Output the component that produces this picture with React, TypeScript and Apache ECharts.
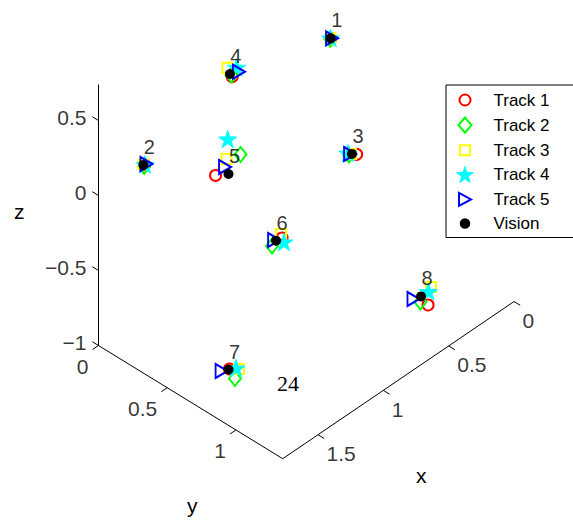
import React, { useEffect, useRef } from "react";
import * as echarts from "echarts";

// ---------- data ----------
const seriesNames = ["Track 1", "Track 2", "Track 3", "Track 4", "Track 5", "Vision"];
const pointLabels = ["1", "2", "3", "4", "5", "6", "7", "8"];

// [x, y, z] for each numbered point
const track1 = [[0.618, 0.594, 0.7], [1.6, 0.173, 0.2], [0.677, 0.839, 0.1], [1.114, 0.349, 0.6], [1.315, 0.419, 0.1], [1.088, 0.687, -0.3], [1.477, 0.675, -0.95], [0.599, 1.284, -0.7]];
const track2 = [[0.624, 0.596, 0.7], [1.61, 0.18, 0.2], [0.709, 0.813, 0.1], [1.106, 0.337, 0.6], [1.189, 0.481, 0.2], [1.172, 0.694, -0.3], [1.514, 0.749, -0.95], [0.609, 1.238, -0.7]];
const track3 = [[0.619, 0.593, 0.7], [1.601, 0.167, 0.2], [0.696, 0.816, 0.1], [1.078, 0.28, 0.6], [1.266, 0.453, 0.2], [1.068, 0.661, -0.3], [1.443, 0.711, -0.95], [0.482, 1.194, -0.7]];
const track4 = [[0.616, 0.592, 0.7], [1.595, 0.172, 0.2], [0.701, 0.799, 0.1], [1.042, 0.313, 0.6], [1.262, 0.457, 0.333], [1.105, 0.717, -0.3], [1.448, 0.694, -0.95], [0.518, 1.21, -0.7]];
const track5 = [[0.613, 0.599, 0.7], [1.587, 0.175, 0.2], [0.699, 0.812, 0.1], [1.06, 0.347, 0.6], [1.275, 0.45, 0.15], [1.129, 0.668, -0.3], [1.518, 0.656, -0.95], [0.617, 1.195, -0.7]];
const vision = [[0.618, 0.594, 0.7], [1.604, 0.169, 0.2], [0.692, 0.819, 0.1], [1.106, 0.325, 0.6], [1.259, 0.46, 0.1], [1.126, 0.679, -0.3], [1.484, 0.674, -0.95], [0.574, 1.209, -0.7]];

const xLim = [0, 1.77];
const yLim = [0, 1.34];
const zLim = [-1, 0.74];
const xTicks = [0, 0.5, 1, 1.5];
const yTicks = [0, 0.5, 1];
const zTicks = [-1, -0.5, 0, 0.5];
const xTickLabels = ["0", "0.5", "1", "1.5"];
const yTickLabels = ["0", "0.5", "1"];
const zTickLabels = ["\u22121", "\u22120.5", "0", "0.5"];

// ---------- view (orthographic projection of the 3-D box) ----------
const VIEW = { ox: 329.8, oy: 38.3, ex: [-130.7, 88.8], ey: [137.5, 84.5], ez: [0, -150] };
function project(p: number[]): number[] {
  const [x, y, z] = p;
  return [
    VIEW.ox + x * VIEW.ex[0] + y * VIEW.ey[0] + z * VIEW.ez[0],
    VIEW.oy + x * VIEW.ex[1] + y * VIEW.ey[1] + z * VIEW.ez[1],
  ];
}

const FONT = "'Liberation Sans', Arial, Helvetica, sans-serif";
const FRAME = "M0 0M20 20";

function starPath(cx: number, cy: number, R: number, r: number): string {
  const pts: string[] = [];
  for (let k = 0; k < 10; k++) {
    const a = ((-90 + k * 36) * Math.PI) / 180;
    const rad = k % 2 === 0 ? R : r;
    pts.push(`${k === 0 ? "M" : "L"}${(cx + rad * Math.cos(a)).toFixed(2)} ${(cy + rad * Math.sin(a)).toFixed(2)}`);
  }
  return pts.join("") + "Z";
}
function circlePath(cx: number, cy: number, r: number): string {
  return `M${cx - r} ${cy}A${r} ${r} 0 1 1 ${cx + r} ${cy}A${r} ${r} 0 1 1 ${cx - r} ${cy}Z`;
}

const symbols = {
  star: "path://" + starPath(10, 10, 10, 3.82),
  triRight: "path://M0 0L12 7L0 14Z",
};
const legendIcons = [
  "path://" + FRAME + circlePath(10, 10, 5.5),
  "path://" + FRAME + "M10 2.5L16.5 10L10 17.5L3.5 10Z",
  "path://" + FRAME + "M5 5L15 5L15 15L5 15Z",
  "path://" + FRAME + starPath(10, 10.5, 8.8, 3.4),
  "path://" + FRAME + "M4 3.5L16 10L4 16.5Z",
  "path://" + FRAME + circlePath(10, 10, 5.3),
];
const colors = ["#ff0000", "#00ff00", "#ffff00", "#00ffff", "#0000ff", "#000000"];
const hollow = "rgba(0,0,0,0)";
const LW = 2;

export default function App() {
  const ref = useRef<HTMLDivElement>(null);
  useEffect(() => {
    if (!ref.current) return;
    const chart = echarts.init(ref.current, undefined, { renderer: "svg" });

    const xmax = xLim[1], ymax = yLim[1], zmin = zLim[0], zmax = zLim[1];
    const tl = 0.045;
    const axisSegs: number[][][] = [
      [project([xmax, 0, zmin]), project([xmax, 0, zmax])],
      [project([xmax, 0, zmin]), project([xmax, ymax, zmin])],
      [project([xmax, ymax, zmin]), project([0, ymax, zmin])],
    ];
    zTicks.forEach((z) => axisSegs.push([project([xmax, 0, z]), project([xmax, -tl, z])]));
    yTicks.forEach((y) => axisSegs.push([project([xmax, y, zmin]), project([xmax + tl, y, zmin])]));
    xTicks.forEach((x) => axisSegs.push([project([x, ymax, zmin]), project([x, ymax + tl, zmin])]));

    const tickLabelStyle = { show: true, formatter: "{b}", fontSize: 21, fontFamily: FONT, color: "#000", position: "inside" };
    const tickSeries = (name: string, pts: number[][], labels: string[], align: string, offset: number[]) => ({
      name,
      type: "scatter",
      symbolSize: 0,
      silent: true,
      z: 1,
      data: pts.map((p, i) => ({ name: labels[i], value: project(p) })),
      label: { ...tickLabelStyle, align, verticalAlign: "middle", offset },
    });

    const trackData = [track1, track2, track3, track4, track5, vision];
    const symbolOpts = [
      { symbol: "circle", symbolSize: 11 },
      { symbol: "diamond", symbolSize: [12, 15] },
      { symbol: "rect", symbolSize: 10 },
      { symbol: symbols.star, symbolSize: 18, symbolKeepAspect: true },
      { symbol: symbols.triRight, symbolSize: [12, 14] },
      { symbol: "circle", symbolSize: 10 },
    ];
    const itemStyles = [
      { color: hollow, borderColor: colors[0], borderWidth: LW, opacity: 1 },
      { color: hollow, borderColor: colors[1], borderWidth: LW, opacity: 1 },
      { color: hollow, borderColor: colors[2], borderWidth: LW, opacity: 1 },
      { color: colors[3], borderColor: colors[3], borderWidth: 1, opacity: 1 },
      { color: hollow, borderColor: colors[4], borderWidth: LW, opacity: 1 },
      { color: colors[5], borderColor: colors[5], borderWidth: 0, opacity: 1 },
    ];

    const markerSeries = seriesNames.map((name, i) => ({
      name,
      type: "scatter",
      silent: true,
      z: 2,
      ...symbolOpts[i],
      itemStyle: itemStyles[i],
      emphasis: { disabled: true },
      data: trackData[i].map((p) => project(p)),
    }));

    chart.setOption({
      animation: false,
      backgroundColor: "#ffffff",
      grid: { left: 0, top: 0, right: 0, bottom: 0 },
      xAxis: { type: "value", min: 0, max: 573, show: false },
      yAxis: { type: "value", min: 0, max: 522, inverse: true, show: false },
      legend: {
        orient: "vertical",
        left: 446,
        top: 85,
        padding: [4, 30, 4, 8],
        itemWidth: 47,
        itemHeight: 20,
        itemGap: 3.1,
        backgroundColor: "#ffffff",
        borderColor: "#000000",
        borderWidth: 1,
        borderRadius: 0,
        selectedMode: false,
        textStyle: { fontSize: 17, fontFamily: FONT, color: "#000", lineHeight: 20 },
        data: seriesNames.map((name, i) => ({ name, icon: legendIcons[i], itemStyle: itemStyles[i] })),
      },
      series: [
        {
          name: "axes",
          type: "lines",
          coordinateSystem: "cartesian2d",
          silent: true,
          z: 1,
          lineStyle: { color: "#000", width: 1, opacity: 1, type: "solid" },
          data: axisSegs.map((c) => ({ coords: c })),
        },
        tickSeries("zTicks", zTicks.map((z) => [xmax, 0, z]), zTickLabels, "right", [-12, -3]),
        tickSeries("yTicks", yTicks.map((y) => [xmax, y, zmin]), yTickLabels, "right", [-10, 21]),
        tickSeries("xTicks", xTicks.map((x) => [x, ymax, zmin]), xTickLabels, "left", [8.5, 19]),
        ...markerSeries,
        {
          name: "Point numbers",
          type: "scatter",
          symbolSize: 0,
          silent: true,
          z: 5,
          data: vision.map((p, i) => ({ name: pointLabels[i], value: project(p) })),
          label: { show: true, formatter: "{b}", position: "inside", offset: [6, -18], align: "center", verticalAlign: "middle", fontSize: 20, fontFamily: FONT, color: "#000" },
        },
      ],
      graphic: [
        { type: "text", left: 14, top: 201, style: { text: "z", fontSize: 21, fontFamily: FONT, fill: "#000" } },
        { type: "text", left: 187, top: 495, style: { text: "y", fontSize: 21, fontFamily: FONT, fill: "#000" } },
        { type: "text", left: 416, top: 465, style: { text: "x", fontSize: 21, fontFamily: FONT, fill: "#000" } },
        { type: "text", left: 277, top: 372, style: { text: "24", fontSize: 22, fontFamily: "'Liberation Serif', 'Times New Roman', serif", fill: "#000" } },
      ],
    });
    return () => chart.dispose();
  }, []);
  return <div ref={ref} style={{ position: "absolute", left: 0, top: 0, width: 573, height: 522 }} />;
}
